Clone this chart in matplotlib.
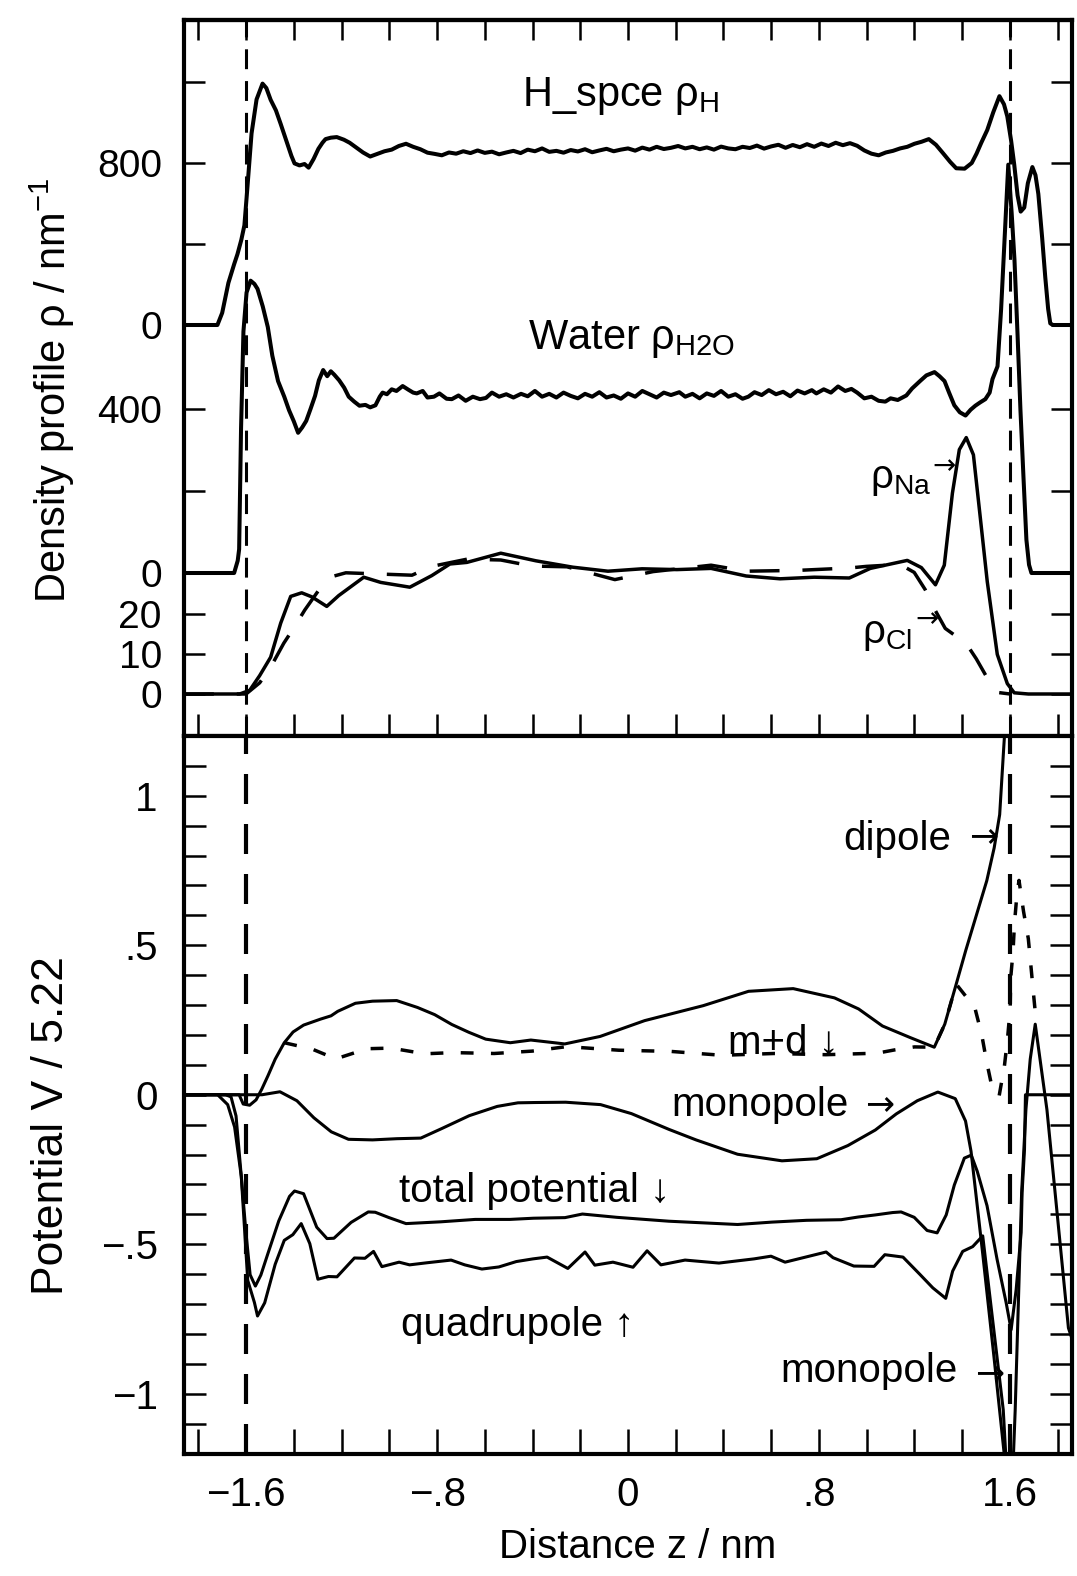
"""Density profiles and potential decomposition across a water / NaCl slab."""

import numpy as np
import matplotlib
matplotlib.use("Agg")
import matplotlib.pyplot as plt

plt.rcParams["font.family"] = ["Liberation Sans", "DejaVu Sans"]
plt.rcParams["mathtext.fontset"] = "custom"
plt.rcParams["mathtext.rm"] = "Liberation Sans"
plt.rcParams["mathtext.it"] = "Liberation Sans"
plt.rcParams["mathtext.bf"] = "Liberation Sans:bold"

# ---- top panel: densities, (z / nm, rho / nm^-1) ----
H_SPCE = [(-1.86, 0), (-1.72, 0), (-1.70, 60), (-1.674, 208), (-1.65, 300), (-1.636, 350),
          (-1.62, 420), (-1.607, 492), (-1.594, 685), (-1.577, 946), (-1.556, 1114),
          (-1.531, 1192), (-1.515, 1170), (-1.497, 1112), (-1.475, 1060), (-1.455, 993),
          (-1.43, 905), (-1.41, 835), (-1.397, 798), (-1.376, 788), (-1.355, 795),
          (-1.338, 777), (-1.317, 820), (-1.297, 870), (-1.28, 900), (-1.267, 918),
          (-1.245, 925), (-1.22, 928), (-1.19, 915), (-1.166, 900), (-1.14, 878),
          (-1.11, 852), (-1.08, 832), (-1.05, 845), (-1.02, 858), (-0.99, 866),
          (-0.96, 884), (-0.93, 895), (-0.90, 880), (-0.87, 868), (-0.84, 851),
          (-0.81, 845), (-0.78, 838), (-0.75, 852), (-0.72, 846), (-0.69, 858),
          (-0.66, 849), (-0.63, 862), (-0.60, 850), (-0.57, 856), (-0.54, 843),
          (-0.51, 852), (-0.48, 860), (-0.45, 849), (-0.42, 866), (-0.39, 858),
          (-0.36, 872), (-0.33, 855), (-0.30, 860), (-0.27, 851), (-0.24, 864),
          (-0.21, 857), (-0.18, 868), (-0.15, 853), (-0.12, 862), (-0.09, 870),
          (-0.06, 858), (-0.03, 866), (0.00, 872), (0.03, 861), (0.06, 876),
          (0.09, 866), (0.12, 880), (0.15, 869), (0.18, 875), (0.21, 884),
          (0.24, 872), (0.27, 880), (0.30, 868), (0.33, 877), (0.36, 866),
          (0.39, 881), (0.42, 872), (0.45, 868), (0.48, 880), (0.51, 874),
          (0.54, 886), (0.57, 871), (0.60, 882), (0.63, 890), (0.66, 875),
          (0.69, 889), (0.72, 878), (0.75, 893), (0.78, 880), (0.81, 896),
          (0.84, 884), (0.87, 900), (0.90, 888), (0.93, 898), (0.96, 885),
          (0.99, 862), (1.02, 846), (1.05, 838), (1.08, 852), (1.11, 860),
          (1.14, 872), (1.17, 880), (1.20, 895), (1.23, 905), (1.26, 918),
          (1.29, 890), (1.32, 848), (1.35, 805), (1.375, 774), (1.41, 772),
          (1.44, 800), (1.46, 846), (1.48, 900), (1.505, 963), (1.53, 1050),
          (1.556, 1130), (1.575, 1090), (1.589, 1030), (1.605, 910), (1.618, 792),
          (1.632, 640), (1.645, 560), (1.66, 580), (1.675, 700), (1.694, 780),
          (1.707, 740), (1.719, 647), (1.735, 430), (1.748, 236), (1.76, 80),
          (1.769, 8), (1.78, 0), (1.86, 0)]

WATER = [(-1.86, 0), (-1.65, 0), (-1.635, 30), (-1.629, 58), (-1.621, 353), (-1.611, 589),
         (-1.598, 684), (-1.581, 713), (-1.565, 705), (-1.552, 693), (-1.53, 650),
         (-1.509, 600), (-1.49, 530), (-1.466, 468), (-1.44, 430), (-1.42, 397),
         (-1.40, 370), (-1.382, 342), (-1.365, 355), (-1.348, 371), (-1.33, 400),
         (-1.311, 432), (-1.295, 470), (-1.277, 495), (-1.26, 480), (-1.245, 492),
         (-1.231, 484), (-1.21, 470), (-1.189, 452), (-1.17, 430), (-1.147, 418),
         (-1.125, 408), (-1.10, 410), (-1.08, 404), (-1.058, 409), (-1.04, 430),
         (-1.028, 440), (-1.01, 436), (-0.99, 448), (-0.97, 444), (-0.944, 456),
         (-0.92, 447), (-0.90, 440), (-0.885, 438), (-0.86, 444), (-0.84, 428),
         (-0.813, 430), (-0.79, 438), (-0.76, 425), (-0.738, 424), (-0.71, 433),
         (-0.68, 420), (-0.65, 430), (-0.62, 424), (-0.595, 427), (-0.57, 440),
         (-0.54, 430), (-0.51, 436), (-0.48, 428), (-0.448, 437), (-0.42, 431),
         (-0.39, 444), (-0.36, 430), (-0.33, 437), (-0.30, 428), (-0.27, 440),
         (-0.24, 432), (-0.21, 426), (-0.18, 437), (-0.15, 430), (-0.12, 441),
         (-0.09, 428), (-0.06, 433), (-0.03, 425), (0.00, 438), (0.03, 430),
         (0.06, 444), (0.09, 436), (0.12, 428), (0.15, 440), (0.18, 434),
         (0.215, 441), (0.24, 430), (0.27, 437), (0.30, 426), (0.33, 438),
         (0.36, 432), (0.39, 444), (0.42, 430), (0.45, 436), (0.48, 425),
         (0.504, 430), (0.53, 441), (0.56, 434), (0.59, 446), (0.62, 436),
         (0.65, 442), (0.68, 431), (0.71, 445), (0.74, 438), (0.77, 446),
         (0.789, 438), (0.82, 448), (0.85, 440), (0.88, 455), (0.91, 444),
         (0.936, 449), (0.96, 440), (0.99, 426), (1.02, 430), (1.05, 420),
         (1.078, 418), (1.10, 426), (1.13, 422), (1.166, 433), (1.19, 450),
         (1.225, 469), (1.25, 482), (1.284, 490), (1.305, 480), (1.326, 468),
         (1.345, 440), (1.367, 409), (1.39, 392), (1.414, 384), (1.435, 398),
         (1.455, 408), (1.475, 416), (1.497, 424), (1.515, 440), (1.527, 473),
         (1.548, 504), (1.563, 643), (1.577, 806), (1.593, 996), (1.607, 880),
         (1.619, 764), (1.632, 580), (1.644, 398), (1.657, 230), (1.669, 81),
         (1.68, 20), (1.69, 0), (1.86, 0)]

SODIUM = [(-1.86, 0), (-1.627, 0), (-1.585, 0.9), (-1.543, 4.6), (-1.497, 9.2),
          (-1.455, 17.7), (-1.413, 24.4), (-1.367, 25.3), (-1.325, 24.3), (-1.262, 21.9),
          (-1.212, 24.6), (-1.107, 29.2), (-1.036, 27.9), (-0.914, 26.7), (-0.822, 29.6),
          (-0.746, 32.5), (-0.675, 32.9), (-0.533, 35.2), (-0.386, 33.3), (-0.231, 31.7),
          (-0.084, 30.7), (0.059, 31.3), (0.205, 31.1), (0.348, 31.4), (0.495, 29.5),
          (0.637, 28.8), (0.780, 29.2), (0.927, 29.0), (1.015, 31.4), (1.170, 33.4),
          (1.229, 31.6), (1.288, 27.3), (1.325, 32.2), (1.359, 50.2), (1.388, 61.1),
          (1.417, 64.1), (1.447, 59.8), (1.476, 44.0), (1.505, 28.1), (1.547, 9.9),
          (1.589, 2.6), (1.618, 0.3), (1.677, 0), (1.86, 0)]

CHLORIDE = [(-1.86, 0), (-1.60, 0), (-1.543, 2.8), (-1.497, 6.7), (-1.442, 12.7),
            (-1.396, 16.9), (-1.354, 21.0), (-1.295, 26.0), (-1.237, 29.4), (-1.182, 30.3),
            (-0.905, 29.7), (-0.822, 31.9), (-0.675, 33.7), (-0.533, 33.5), (-0.403, 32.0),
            (-0.256, 31.8), (-0.055, 28.6), (0.105, 30.6), (0.348, 32.2), (0.495, 30.7),
            (0.709, 30.9), (0.927, 31.5), (0.998, 31.9), (1.140, 32.4), (1.199, 30.4),
            (1.245, 26.1), (1.288, 20.8), (1.329, 16.4), (1.417, 12.6), (1.459, 8.8),
            (1.505, 4.0), (1.547, 0.4), (1.60, 0)]

# ---- bottom panel: potential / 5.22 ----
DIPOLE = [(-1.86, 0), (-1.629, 0), (-1.612, -0.031), (-1.585, -0.035), (-1.558, -0.017),
          (-1.534, 0.019), (-1.508, 0.064), (-1.478, 0.119), (-1.440, 0.174),
          (-1.403, 0.210), (-1.359, 0.233), (-1.288, 0.253), (-1.244, 0.264),
          (-1.216, 0.279), (-1.142, 0.306), (-1.070, 0.313), (-0.969, 0.315),
          (-0.882, 0.292), (-0.810, 0.268), (-0.738, 0.235), (-0.667, 0.209),
          (-0.596, 0.186), (-0.493, 0.174), (-0.407, 0.183), (-0.265, 0.170),
          (-0.117, 0.195), (0.070, 0.248), (0.315, 0.298), (0.505, 0.346),
          (0.692, 0.355), (0.865, 0.324), (0.966, 0.287), (1.066, 0.230),
          (1.183, 0.191), (1.283, 0.159), (1.327, 0.236), (1.371, 0.359),
          (1.415, 0.483), (1.503, 0.716), (1.534, 0.826), (1.557, 0.937),
          (1.574, 1.161), (1.582, 1.26)]

M_PLUS_D = [(-1.440, 0.174), (-1.324, 0.153), (-1.224, 0.120), (-1.093, 0.154),
            (-0.993, 0.156), (-0.851, 0.137), (-0.733, 0.141), (-0.561, 0.138),
            (-0.401, 0.146), (-0.257, 0.161), (-0.039, 0.149), (0.179, 0.145),
            (0.393, 0.132), (0.611, 0.138), (0.829, 0.134), (1.043, 0.139),
            (1.117, 0.150), (1.20, 0.160), (1.283, 0.159), (1.327, 0.236),
            (1.375, 0.370), (1.453, 0.291), (1.482, 0.200), (1.502, 0.112),
            (1.526, 0.021), (1.555, -0.003), (1.577, 0.097), (1.590, 0.188),
            (1.601, 0.288), (1.603, 0.389), (1.613, 0.479), (1.619, 0.573),
            (1.629, 0.667), (1.638, 0.717), (1.657, 0.613), (1.677, 0.522),
            (1.689, 0.421), (1.700, 0.327), (1.711, 0.236)]

MONOPOLE = [(-1.86, 0), (-1.533, 0), (-1.458, 0.010), (-1.387, -0.020), (-1.316, -0.077),
            (-1.243, -0.124), (-1.171, -0.149), (-1.070, -0.151), (-0.968, -0.147),
            (-0.868, -0.145), (-0.780, -0.113), (-0.665, -0.070), (-0.548, -0.039),
            (-0.461, -0.027), (-0.391, -0.026), (-0.261, -0.025), (-0.115, -0.033),
            (0.014, -0.063), (0.172, -0.116), (0.285, -0.151), (0.459, -0.199),
            (0.645, -0.221), (0.791, -0.214), (0.921, -0.170), (1.036, -0.118),
            (1.124, -0.064), (1.212, -0.020), (1.298, 0.009), (1.371, -0.013),
            (1.414, -0.088), (1.437, -0.189), (1.486, -0.532), (1.533, -0.876),
            (1.581, -1.239), (1.595, -1.32), (1.605, -1.32), (1.615, -1.20),
            (1.622, -1.055), (1.649, -0.327), (1.667, -0.049), (1.685, 0.119),
            (1.706, 0.236), (1.755, -0.050), (1.845, -0.780), (1.87, -0.84)]

TOTAL = [(-1.86, 0), (-1.719, 0), (-1.677, -0.033), (-1.648, -0.108), (-1.620, -0.273),
         (-1.601, -0.456), (-1.583, -0.602), (-1.561, -0.640), (-1.538, -0.603),
         (-1.508, -0.530), (-1.463, -0.422), (-1.418, -0.340), (-1.397, -0.322),
         (-1.359, -0.331), (-1.304, -0.443), (-1.261, -0.481), (-1.232, -0.480),
         (-1.160, -0.427), (-1.088, -0.392), (-1.059, -0.393), (-1.001, -0.411),
         (-0.930, -0.431), (-0.784, -0.425), (-0.640, -0.417), (-0.495, -0.417),
         (-0.396, -0.413), (-0.264, -0.411), (-0.191, -0.399), (-0.047, -0.410),
         (0.171, -0.423), (0.459, -0.434), (0.603, -0.426), (0.748, -0.420),
         (0.893, -0.418), (0.964, -0.409), (1.036, -0.402), (1.109, -0.394),
         (1.144, -0.392), (1.199, -0.410), (1.253, -0.454), (1.295, -0.462),
         (1.333, -0.402), (1.367, -0.302), (1.409, -0.212), (1.438, -0.202),
         (1.463, -0.256), (1.504, -0.371), (1.546, -0.550), (1.584, -0.695),
         (1.605, -0.786), (1.626, -0.652), (1.647, -0.461), (1.651, -0.327),
         (1.661, -0.183), (1.665, 0.0), (1.86, 0.0)]

QUADRUPOLE = [(-1.86, 0), (-1.686, 0), (-1.663, -0.007), (-1.642, -0.071), (-1.620, -0.273),
              (-1.593, -0.621), (-1.565, -0.695), (-1.552, -0.740), (-1.522, -0.696),
              (-1.478, -0.567), (-1.440, -0.487), (-1.404, -0.468), (-1.369, -0.431),
              (-1.333, -0.498), (-1.299, -0.617), (-1.255, -0.608), (-1.219, -0.609),
              (-1.146, -0.546), (-1.102, -0.547), (-1.066, -0.524), (-1.031, -0.575),
              (-0.959, -0.560), (-0.915, -0.569), (-0.842, -0.562), (-0.741, -0.553),
              (-0.684, -0.569), (-0.612, -0.583), (-0.541, -0.576), (-0.468, -0.558),
              (-0.398, -0.549), (-0.339, -0.543), (-0.252, -0.581), (-0.180, -0.526),
              (-0.139, -0.570), (-0.063, -0.560), (0.021, -0.577), (0.080, -0.522),
              (0.138, -0.569), (0.239, -0.553), (0.381, -0.563), (0.528, -0.549),
              (0.599, -0.540), (0.658, -0.560), (0.744, -0.543), (0.830, -0.526),
              (0.859, -0.545), (0.946, -0.573), (1.031, -0.574), (1.076, -0.535),
              (1.152, -0.543), (1.223, -0.601), (1.277, -0.646), (1.331, -0.681),
              (1.360, -0.590), (1.402, -0.524), (1.444, -0.508), (1.486, -0.472),
              (1.572, -1.054), (1.585, -1.24), (1.595, -1.35)]

# ---- axes ticks and labels ----
Z_TICKS = [-1.8, -1.6, -1.4, -1.2, -1.0, -0.8, -0.6, -0.4, -0.2, 0.0,
           0.2, 0.4, 0.6, 0.8, 1.0, 1.2, 1.4, 1.6, 1.8]
Z_TICK_LABELS = ["", "\u22121.6", "", "", "", "\u2212.8", "", "", "", "0",
                 "", "", "", ".8", "", "", "", "1.6", ""]
H_TICKS, H_TICK_LABELS = [0, 400, 800, 1200], ["0", "", "800", ""]
W_TICKS, W_TICK_LABELS = [0, 200, 400], ["0", "", "400"]
ION_TICKS, ION_TICK_LABELS = [0, 10, 20], ["0", "10", "20"]
V_TICKS = [-1.1, -1.0, -0.9, -0.8, -0.7, -0.6, -0.5, -0.4, -0.3, -0.2, -0.1, 0.0,
           0.1, 0.2, 0.3, 0.4, 0.5, 0.6, 0.7, 0.8, 0.9, 1.0, 1.1]
V_TICK_LABELS = ["", "\u22121", "", "", "", "", "\u2212.5", "", "", "", "", "0",
                 "", "", "", "", ".5", "", "", "", "", "1", ""]
SURFACES = [-1.6, 1.6]

# stacking of the three density traces in the top panel (offset, scale)
H_OFF, H_SCALE = 411, 0.2025
W_OFF, W_SCALE = 163, 0.41
ION_OFF, ION_SCALE = 42, 4.0

W, H = 1077, 1576
fig = plt.figure(figsize=(W / 100, H / 100), dpi=100)


def px_box(left, top, right, bottom):
    return [left / W, 1 - bottom / H, (right - left) / W, (bottom - top) / H]


def fig_text(x, y, s, **kw):
    kw.setdefault("fontsize", 29)
    kw.setdefault("va", "baseline")
    fig.text(x / W, 1 - y / H, s, **kw)


def arrow_text(x, y, s, size=25):
    # horizontal arrows from DejaVu, which draws them at a readable size
    fig.text(x / W, 1 - y / H, s, fontsize=size, family="DejaVu Sans",
             ha="left", va="center")


ax_top = fig.add_axes(px_box(184, 20, 1072, 736))
ax_bot = fig.add_axes(px_box(184, 736, 1072, 1453.5))


def xy(pairs):
    a = np.array(pairs, dtype=float)
    return a[:, 0], a[:, 1]


line_kw = dict(color="black", solid_joinstyle="round", solid_capstyle="round")

z, v = xy(H_SPCE)
ax_top.plot(z, H_OFF + H_SCALE * v, lw=2.9, **line_kw)
z, v = xy(WATER)
ax_top.plot(z, W_OFF + W_SCALE * v, lw=2.9, **line_kw)
z, v = xy(SODIUM)
ax_top.plot(z, ION_OFF + ION_SCALE * v, lw=2.5, **line_kw)
z, v = xy(CHLORIDE)
ax_top.plot(z, ION_OFF + ION_SCALE * v, lw=2.5, color="black", dashes=(8.6, 6.6))

for s in SURFACES:
    ax_top.axvline(s, color="black", lw=2.2, dashes=(6.5, 3.9))
    ax_bot.axvline(s, color="black", lw=3.0, dashes=(7.2, 4.8))

for pairs in (DIPOLE, MONOPOLE, TOTAL, QUADRUPOLE):
    z, v = xy(pairs)
    ax_bot.plot(z, v, lw=2.2, **line_kw)
z, v = xy(M_PLUS_D)
ax_bot.plot(z, v, lw=2.5, color="black", dashes=(3.7, 5.0))

# axes styling
for ax in (ax_top, ax_bot):
    ax.set_xlim(-1.86, 1.86)
    for sp in ax.spines.values():
        sp.set_linewidth(3.0)
ax_top.set_ylim(0, 716)
ax_bot.set_ylim(-1.2, 1.2)

top_ticks = ([H_OFF + H_SCALE * t for t in H_TICKS]
             + [W_OFF + W_SCALE * t for t in W_TICKS]
             + [ION_OFF + ION_SCALE * t for t in ION_TICKS])
top_labels = H_TICK_LABELS + W_TICK_LABELS + ION_TICK_LABELS
ax_top.set_yticks(top_ticks, labels=top_labels)
ax_top.tick_params(axis="y", direction="in", length=15, width=1.8, left=True,
                   right=True, labelsize=28, pad=16)
ax_top.set_xticks(Z_TICKS, labels=[""] * len(Z_TICKS))
ax_top.tick_params(axis="x", direction="inout", length=32, width=1.8,
                   bottom=True, top=False, labelbottom=False)
sec = ax_top.secondary_xaxis("top")
sec.set_xticks(Z_TICKS, labels=[""] * len(Z_TICKS))
sec.tick_params(axis="x", direction="in", length=14.5, width=1.8, labeltop=False)
sec.spines["top"].set_linewidth(3.0)

ax_bot.set_yticks(V_TICKS, labels=V_TICK_LABELS)
ax_bot.tick_params(axis="y", direction="in", length=15.5, width=1.8, left=True,
                   right=True, labelsize=29, pad=19)
ax_bot.set_xticks(Z_TICKS, labels=Z_TICK_LABELS)
ax_bot.tick_params(axis="x", direction="in", length=18, width=1.8, top=False,
                   bottom=True, labelsize=29, pad=16)

# axis titles
fig_text(52, 390, "Density profile \u03c1 / nm$^{\\mathregular{-1}}$", fontsize=30,
         rotation=90, ha="center", va="center")
fig_text(52, 1126, "Potential V / 5.22", fontsize=32, rotation=90,
         ha="center", va="center")
fig_text(638, 1547, "Distance z / nm", fontsize=29, ha="center", va="center")

# curve annotations
fig_text(522, 106, "H_spce \u03c1$_{\\mathregular{H}}$", fontsize=30)
fig_text(528, 349, "Water \u03c1$_{\\mathregular{H2O}}$", fontsize=30)
fig_text(870, 488, "\u03c1$_{\\mathregular{Na}}$", fontsize=29)
arrow_text(932, 466, "\u2192", size=20)
fig_text(862, 643, "\u03c1$_{\\mathregular{Cl}}$", fontsize=29)
arrow_text(915, 619, "\u2192", size=20)
fig_text(843, 850, "dipole")
arrow_text(969, 836, "\u2192")
fig_text(728, 1054, "m+d \u2193")
fig_text(671, 1116, "monopole")
arrow_text(865, 1104, "\u2192")
fig_text(399, 1202, "total potential \u2193")
fig_text(401, 1336, "quadrupole \u2191")
fig_text(780, 1382, "monopole")
arrow_text(975, 1373, "\u2192")

fig.savefig("out.png", dpi=100, facecolor="white")
